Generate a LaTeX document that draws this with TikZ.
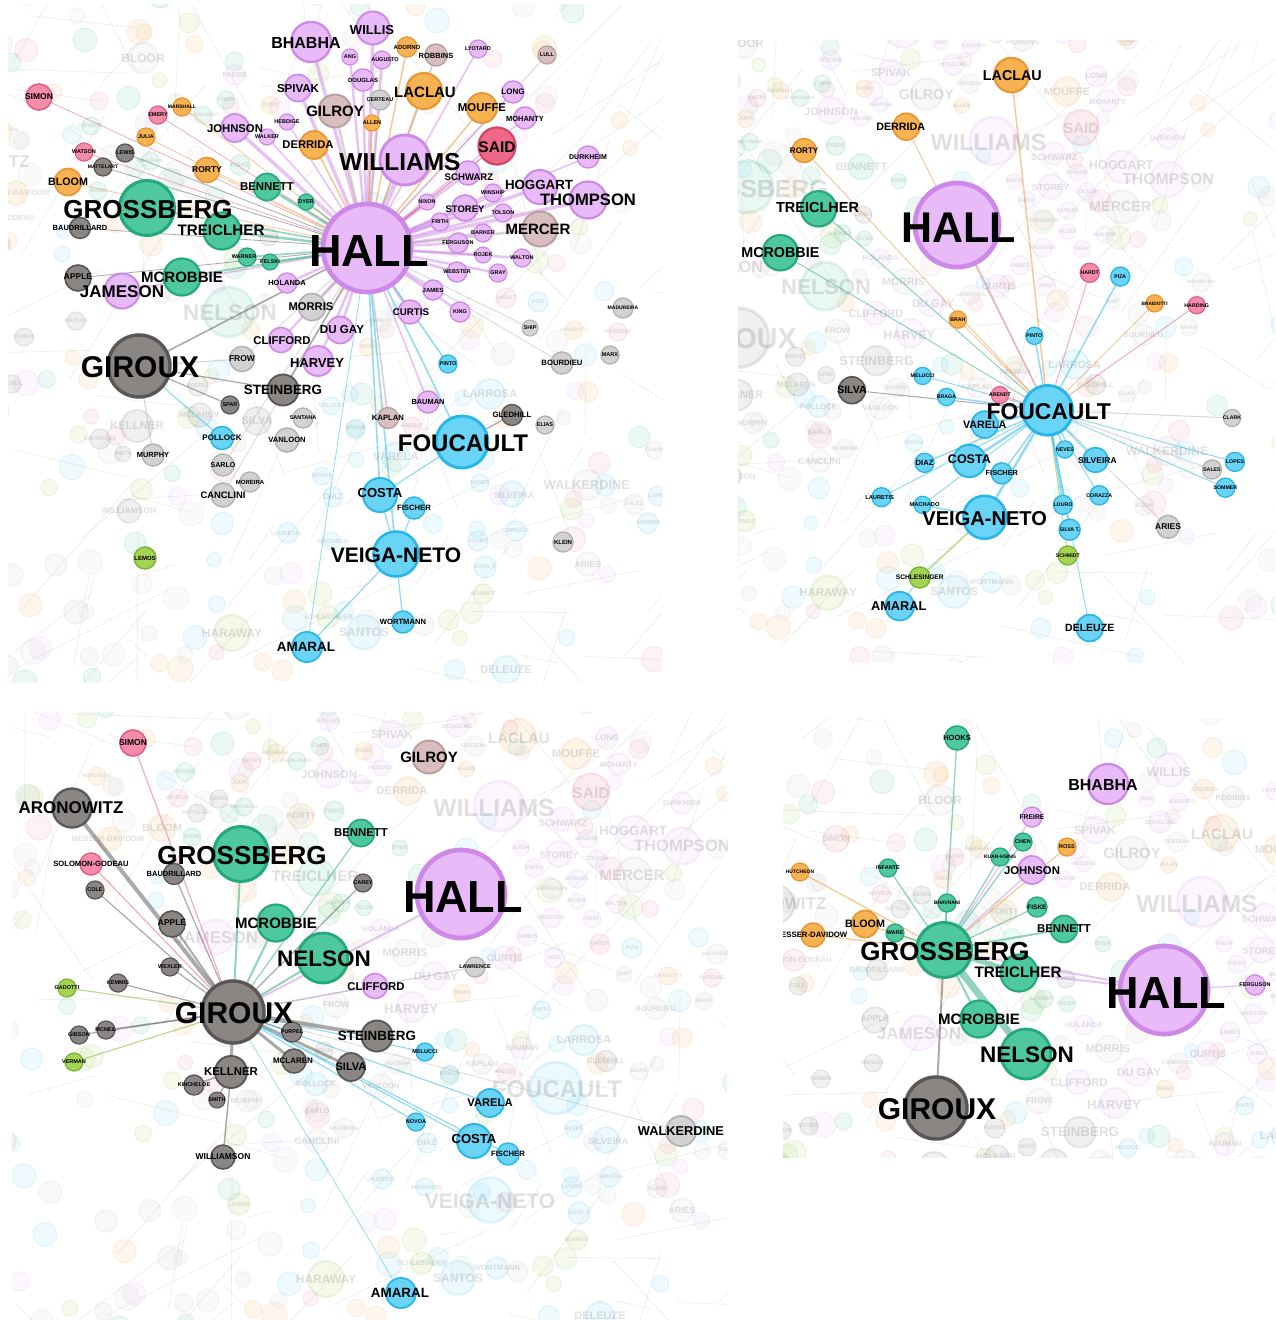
\documentclass[tikz,border=0pt]{standalone}
\usepackage{fontspec}
\setmainfont{Liberation Sans}
\pgfdeclarelayer{faint}
\pgfdeclarelayer{edges}
\pgfsetlayers{faint,edges,main}
\definecolor{puF}{RGB}{232,187,248}\definecolor{puL}{RGB}{206,137,232}
\definecolor{teF}{RGB}{78,200,158}\definecolor{teL}{RGB}{36,168,124}
\definecolor{orF}{RGB}{247,178,82}\definecolor{orL}{RGB}{232,150,50}
\definecolor{gdF}{RGB}{138,134,132}\definecolor{gdL}{RGB}{88,86,86}
\definecolor{glF}{RGB}{210,210,210}\definecolor{glL}{RGB}{178,178,178}
\definecolor{brF}{RGB}{216,190,190}\definecolor{brL}{RGB}{184,160,160}
\definecolor{cyF}{RGB}{105,212,246}\definecolor{cyL}{RGB}{40,182,232}
\definecolor{pkF}{RGB}{245,140,170}\definecolor{pkL}{RGB}{225,95,130}
\definecolor{rdF}{RGB}{238,105,135}\definecolor{rdL}{RGB}{214,68,100}
\definecolor{grF}{RGB}{165,212,85}\definecolor{grL}{RGB}{122,180,50}
\pgfmathdeclarerandomlist{cols}{{pu}{te}{or}{gl}{cy}{pk}{gr}{br}{gl}{cy}}
\newif\ifcirc \circtrue
\tikzset{
  ball/.style={circle, inner sep=0pt, fill=#1F, draw=#1L},
  lab/.style={inner sep=0pt, text=black, font=\bfseries},
  mdf/.style={opacity=0.12},
  md1/.style={}, md2/.style={}, md3/.style={}, md4/.style={},
  edg/.style={draw=#1L, draw opacity=0.5, line cap=round},
  fline/.style={draw=black!30, line width=0.6pt, opacity=0.25},
  fcirc/.style={line width=1pt, opacity=0.11},
}
\newcommand\nd[9]{%
  \ifcirc
    \node[ball=#6, minimum size=#5, line width={0.05*#5+0.3}, md#1] (#2#1) at (#3,#4) {};%
  \else
    \node[lab, md#1, shift={(#9)}] (#2#1t) at (#3,#4) {\fontsize{#8}{#8}\selectfont #7};%
  \fi}
\def\allids{}
\newcommand\defnode[8]{%
  \expandafter\def\csname nD@#1\endcsname##1{\nd{##1}{#1}{#2}{#3}{#4}{#5}{#6}{#7}{#8}}%
  \expandafter\def\csname cl@#1\endcsname{#5}%
  \ifx\allids\empty\xdef\allids{#1}\else\xdef\allids{\allids,#1}\fi}
\newcommand\drawset[2]{\edef\tmplist{#2}\foreach \n in \tmplist {\csname nD@\n\endcsname{#1}}}
\newcommand\fan[4]{\foreach \tg in {#4}{\edef\ec{\csname cl@\tg\endcsname}\draw[edg=\ec, line width=#3] (#1) -- (\tg#2);}}
\newcommand\bgnet{%
  \pgfmathsetseed{12345}%
  \foreach \i in {1,...,130}{%
    \pgfmathsetmacro\xa{-90+800*rnd}\pgfmathsetmacro\ya{-30+740*rnd}%
    \pgfmathsetmacro\xb{\xa+320*(rnd-0.5)}\pgfmathsetmacro\yb{\ya+320*(rnd-0.5)}%
    \draw[fline] (\xa,\ya) -- (\xb,\yb);}%
  \foreach \i in {1,...,240}{%
    \pgfmathsetmacro\xa{-90+800*rnd}\pgfmathsetmacro\ya{-30+740*rnd}%
    \pgfmathsetmacro\rr{7+6*rnd}%
    \pgfmathrandomitem\cc{cols}%
    \draw[fcirc, fill=\cc F, draw=\cc L] (\xa,\ya) circle[radius=\rr];}%
}
\newcommand\panel[4]{%
  \begin{pgfonlayer}{faint}
    \begin{scope}\clip #2;
      \begin{scope}[#3]\bgnet \circtrue\drawset{f}{\allids}\circfalse\drawset{f}{\allids}\end{scope}
    \end{scope}
  \end{pgfonlayer}
  \begin{scope}\clip #2;
    \begin{scope}[#3]\circtrue\drawset{#1}{#4}\circfalse\drawset{#1}{#4}\end{scope}
  \end{scope}}
% ---------- network (frame of the top-left panel) ----------
\defnode{hall}{367}{248}{88}{pu}{HALL}{45}{2,3}
\defnode{grossberg}{147}{208}{55}{te}{GROSSBERG}{26}{1,2}
\defnode{giroux}{139}{366}{62}{gd}{GIROUX}{30}{1,1}
\defnode{foucault}{462}{442}{52}{cy}{FOUCAULT}{24}{1,1}
\defnode{williams}{405}{160}{50}{pu}{WILLIAMS}{24.5}{-5,2}
\defnode{veiganeto}{396}{554}{45}{cy}{VEIGA-NETO}{21}{0,1}
\defnode{nelson}{229}{312}{50}{te}{NELSON}{22.5}{1,1}
\defnode{bhabha}{311}{42}{40}{pu}{BHABHA}{16}{-5,1}
\defnode{willis}{373}{28}{33}{pu}{WILLIS}{13}{-1,2}
\defnode{gilroy}{335}{111}{33}{br}{GILROY}{15}{0,0}
\defnode{spivak}{298}{88}{27}{pu}{SPIVAK}{11.5}{0,1}
\defnode{johnson}{235}{128}{28}{pu}{JOHNSON}{11.3}{0,1}
\defnode{derrida}{314}{145}{28}{or}{DERRIDA}{11.2}{-6,0}
\defnode{laclau}{424}{91}{36}{or}{LACLAU}{15}{1,1}
\defnode{mouffe}{482}{108}{30}{or}{MOUFFE}{11.4}{0,0}
\defnode{said}{497}{146}{37}{rd}{SAID}{15.5}{0,1}
\defnode{hoggart}{540}{187}{34}{pu}{HOGGART}{13.3}{-1,-2}
\defnode{thompson}{588}{200}{37}{pu}{THOMPSON}{16.6}{0,0}
\defnode{mercer}{540}{229}{35}{br}{MERCER}{15}{-2,0}
\defnode{schwarz}{468}{173}{24}{pu}{SCHWARZ}{9.6}{1,4}
\defnode{storey}{465}{208}{26}{pu}{STOREY}{9.5}{0,1}
\defnode{durkheim}{588}{157}{22}{pu}{DURKHEIM}{7}{0,0}
\defnode{mohanty}{525}{118}{22}{pu}{MOHANTY}{7.5}{0,1}
\defnode{long}{513}{92}{22}{pu}{LONG}{8}{0,0}
\defnode{adorno}{407}{47}{20}{or}{ADORNO}{6}{0,0}
\defnode{robbins}{436}{55}{22}{br}{ROBBINS}{7.5}{0,1}
\defnode{lyotard}{478}{49}{18}{pu}{LYOTARD}{5.5}{0,0}
\defnode{lull}{547}{55}{18}{br}{LULL}{5.5}{0,0}
\defnode{ang}{350}{57}{16}{pu}{ANG}{5.5}{0,0}
\defnode{augusto}{382}{60}{18}{pu}{AUGUSTO}{5.5}{3,0}
\defnode{douglas}{363}{80}{22}{pu}{DOUGLAS}{6}{0,0}
\defnode{certeau}{380}{100}{20}{gl}{CERTEAU}{5.5}{0,0}
\defnode{allen}{372}{123}{16}{or}{ALLEN}{5.5}{0,0}
\defnode{rorty}{207}{170}{25}{or}{RORTY}{8.5}{0,0}
\defnode{bloom}{68}{182}{27}{or}{BLOOM}{10.7}{0,0}
\defnode{simon}{39}{97}{26}{pk}{SIMON}{8.5}{0,0}
\defnode{emery}{158}{115}{18}{pk}{EMERY}{5.5}{0,0}
\defnode{marshall}{182}{107}{18}{or}{MARSHALL}{5}{0,0}
\defnode{julia}{146}{137}{18}{or}{JULIA}{5.5}{0,0}
\defnode{watson}{84}{152}{18}{pk}{WATSON}{5.5}{0,0}
\defnode{lewis}{125}{153}{18}{gd}{LEWIS}{5.5}{0,0}
\defnode{mattelart}{103}{167}{18}{gd}{MATTELART}{5}{0,0}
\defnode{baudrillard}{80}{228}{21}{gd}{BAUDRILLARD}{7.5}{0,0}
\defnode{treiclher}{222}{231}{37}{te}{TREICLHER}{15.2}{-1,-1}
\defnode{bennett}{267}{187}{27}{te}{BENNETT}{11.4}{0,0}
\defnode{dyer}{306}{202}{16}{te}{DYER}{5.5}{0,0}
\defnode{hebdige}{287}{122}{16}{pu}{HEBDIGE}{5.5}{0,0}
\defnode{walker}{267}{137}{16}{pu}{WALKER}{5.5}{0,0}
\defnode{warner}{247}{257}{18}{te}{WARNER}{5.5}{-3,0}
\defnode{felski}{270}{262}{16}{te}{FELSKI}{5.5}{0,0}
\defnode{mcrobbie}{182}{277}{37}{te}{MCROBBIE}{15}{0,0}
\defnode{apple}{78}{278}{26}{gd}{APPLE}{8.4}{0,-1}
\defnode{jameson}{122}{291}{35}{pu}{JAMESON}{17}{0,1}
\defnode{holanda}{287}{283}{20}{pu}{HOLANDA}{7.5}{0,0}
\defnode{morris}{312}{307}{27}{gl}{MORRIS}{11.2}{-1,0}
\defnode{dugay}{340}{330}{27}{pu}{DU GAY}{11.6}{2,0}
\defnode{clifford}{281}{340}{25}{pu}{CLIFFORD}{11.3}{1,1}
\defnode{harvey}{318}{361}{30}{pu}{HARVEY}{13}{-1,2}
\defnode{curtis}{410}{312}{24}{pu}{CURTIS}{9.7}{1,0}
\defnode{steinberg}{283}{390}{31}{gd}{STEINBERG}{13.4}{0,0}
\defnode{frow}{242}{359}{25}{gl}{FROW}{8.5}{0,0}
\defnode{spar}{230}{405}{18}{gd}{SPAR}{5.5}{0,0}
\defnode{santana}{303}{418}{20}{gl}{SANTANA}{5.5}{0,0}
\defnode{pollock}{222}{438}{23}{cy}{POLLOCK}{8}{0,0}
\defnode{vanloon}{287}{440}{24}{gl}{VANLOON}{7.6}{0,0}
\defnode{murphy}{153}{455}{22}{gl}{MURPHY}{7.4}{0,0}
\defnode{sarlo}{223}{465}{22}{gl}{SARLO}{7.1}{0,0}
\defnode{moreira}{250}{482}{20}{gl}{MOREIRA}{6}{0,0}
\defnode{canclini}{223}{495}{24}{gl}{CANCLINI}{9.4}{0,0}
\defnode{lemos}{145}{558}{22}{gr}{LEMOS}{6}{0,0}
\defnode{amaral}{307}{647}{30}{cy}{AMARAL}{13.4}{-1,0}
\defnode{pinto}{448}{364}{18}{cy}{PINTO}{5.5}{0,0}
\defnode{bourdieu}{562}{363}{22}{gl}{BOURDIEU}{7.7}{0,0}
\defnode{marx}{610}{355}{18}{gl}{MARX}{5.5}{0,0}
\defnode{bauman}{428}{402}{22}{pu}{BAUMAN}{7.4}{0,0}
\defnode{kaplan}{388}{418}{21}{br}{KAPLAN}{7.7}{0,0}
\defnode{gledhill}{512}{415}{21}{gd}{GLEDHILL}{7.8}{0,0}
\defnode{elias}{545}{425}{18}{gl}{ELIAS}{5.5}{0,0}
\defnode{costa}{380}{495}{34}{cy}{COSTA}{13.1}{0,-2}
\defnode{fischer}{414}{508}{22}{cy}{FISCHER}{7.7}{0,0}
\defnode{klein}{563}{542}{20}{gl}{KLEIN}{6}{0,0}
\defnode{wortmann}{403}{622}{22}{cy}{WORTMANN}{7.6}{0,0}
\defnode{nixon}{427}{202}{16}{pu}{NIXON}{5.5}{0,0}
\defnode{winship}{493}{193}{18}{pu}{WINSHIP}{5.5}{0,0}
\defnode{tolson}{503}{213}{18}{pu}{TOLSON}{5.5}{0,0}
\defnode{frith}{440}{222}{18}{pu}{FRITH}{5.5}{0,0}
\defnode{barker}{483}{233}{18}{pu}{BARKER}{5.5}{0,0}
\defnode{ferguson}{458}{243}{20}{pu}{FERGUSON}{5.5}{0,0}
\defnode{rojek}{483}{255}{16}{pu}{ROJEK}{5.5}{0,0}
\defnode{walton}{522}{258}{18}{pu}{WALTON}{5.5}{0,0}
\defnode{webster}{457}{272}{20}{pu}{WEBSTER}{5.5}{0,0}
\defnode{gray}{498}{273}{18}{pu}{GRAY}{5.5}{0,0}
\defnode{james}{433}{290}{20}{pu}{JAMES}{6}{0,0}
\defnode{king}{460}{312}{20}{pu}{KING}{5.5}{0,0}
\defnode{ship}{530}{328}{16}{gl}{SHIP}{5.5}{0,0}
\defnode{madureira}{623}{308}{20}{gl}{MADUREIRA}{5}{0,0}
\defnode{bloor}{143}{58}{30}{gl}{BLOOR}{12}{0,0}
\defnode{haraway}{232}{633}{36}{gr}{HARAWAY}{12}{0,0}
\defnode{santos}{364}{632}{34}{cy}{SANTOS}{12}{0,0}
\defnode{deleuze}{506}{670}{28}{cy}{DELEUZE}{11}{0,0}
\defnode{walkerdine}{587}{485}{30}{gl}{WALKERDINE}{12.8}{0,0}
\defnode{aries}{588}{564}{24}{gl}{ARIES}{8.8}{0,0}
\defnode{larrosa}{490}{394}{30}{cy}{LARROSA}{11}{0,0}
\defnode{varela}{396}{457}{28}{cy}{VARELA}{11.2}{0,0}
\defnode{silva}{257}{421}{28}{gd}{SILVA}{11}{0,0}
\defnode{kellner}{137}{426}{32}{gd}{KELLNER}{11.4}{0,0}
\defnode{williamson}{129}{511}{24}{gd}{WILLIAMSON}{8.5}{0,0}
\defnode{mclaren}{200}{415}{24}{gd}{MCLAREN}{8}{-1,0}
\defnode{aronowitz}{-22}{162}{39}{gd}{ARONOWITZ}{17}{-1,0}
\defnode{solomon}{-3}{218}{22}{pk}{SOLOMON-GODEAU}{7.6}{0,0}
\defnode{cole}{1}{244}{18}{gd}{COLE}{5.5}{0,0}
\defnode{wexler}{76}{321}{18}{gd}{WEXLER}{5.5}{0,0}
\defnode{kemmis}{24}{337}{18}{gd}{KEMMIS}{5.5}{0,0}
\defnode{gadotti}{-27}{342}{18}{gr}{GADOTTI}{5.5}{0,0}
\defnode{gibson}{-15}{389}{18}{gd}{GIBSON}{5.5}{0,0}
\defnode{mcneil}{12}{384}{18}{gd}{MCNEIL}{5.5}{0,0}
\defnode{verman}{-20}{416}{18}{gr}{VERMAN}{5.5}{0,0}
\defnode{purpel}{198}{386}{20}{gd}{PURPEL}{5.5}{0,0}
\defnode{kincheloe}{100}{439}{20}{gd}{KINCHELOE}{5.5}{0,0}
\defnode{smith}{123}{454}{16}{gd}{SMITH}{5.5}{0,0}
\defnode{carey}{269}{237}{18}{gd}{CAREY}{5.5}{0,0}
\defnode{lawrence}{381}{321}{20}{gl}{LAWRENCE}{5.5}{0,0}
\defnode{melucci}{331}{406}{18}{cy}{MELUCCI}{5.5}{0,0}
\defnode{novoa}{322}{476}{18}{cy}{NOVOA}{5.5}{0,0}
\defnode{braga}{356}{428}{18}{cy}{BRAGA}{5.5}{0,0}
\defnode{arendt}{412}{426}{18}{pk}{ARENDT}{5.5}{0,0}
\defnode{diaz}{333}{497}{20}{cy}{DIAZ}{8}{0,0}
\defnode{lauretis}{288}{533}{20}{cy}{LAURETIS}{6}{-2,0}
\defnode{machado}{331}{541}{18}{cy}{MACHADO}{6}{2,0}
\defnode{schlesinger}{328}{617}{22}{gr}{SCHLESINGER}{6.9}{0,0}
\defnode{brah}{368}{347}{18}{or}{BRAH}{5.5}{0,0}
\defnode{hardt}{506}{298}{20}{pk}{HARDT}{5.5}{0,0}
\defnode{piza}{538}{302}{20}{cy}{PIZA}{5.5}{0,0}
\defnode{braidotti}{574}{330}{18}{or}{BRAIDOTTI}{5}{0,0}
\defnode{harding}{618}{332}{18}{pk}{HARDING}{5.5}{0,0}
\defnode{clark}{655}{450}{18}{gl}{CLARK}{5.5}{0,0}
\defnode{neves}{480}{483}{18}{cy}{NEVES}{5.5}{0,0}
\defnode{silveira}{512}{494}{26}{cy}{SILVEIRA}{8.9}{2,1}
\defnode{corazza}{516}{531}{20}{cy}{CORAZZA}{5.5}{0,0}
\defnode{louro}{478}{541}{20}{cy}{LOURO}{5.5}{0,0}
\defnode{silvat}{485}{567}{22}{cy}{SILVA T.}{5.5}{0,0}
\defnode{schmidt}{483}{594}{20}{gr}{SCHMIDT}{5.5}{0,0}
\defnode{lopes}{658}{496}{20}{cy}{LOPES}{5.5}{0,0}
\defnode{sales}{634}{504}{20}{gl}{SALES}{5.5}{0,0}
\defnode{sommer}{648}{523}{20}{cy}{SOMMER}{5.5}{0,0}
\defnode{hooks}{160}{-4}{24}{te}{HOOKS}{7.5}{0,0}
\defnode{freire}{235}{75}{20}{pu}{FREIRE}{6.8}{0,0}
\defnode{chen}{226}{100}{18}{te}{CHEN}{5.5}{0,0}
\defnode{kuan}{203}{115}{18}{te}{KUAN-HSING}{5}{0,0}
\defnode{ross}{270}{105}{18}{or}{ROSS}{5.5}{0,0}
\defnode{infante}{91}{126}{18}{te}{INFANTE}{5.5}{0,0}
\defnode{hutcheon}{3}{130}{18}{or}{HUTCHEON}{5}{0,0}
\defnode{bhav}{150}{161}{18}{te}{BHAVNANI}{5}{0,0}
\defnode{fiske}{240}{165}{20}{te}{FISKE}{6.5}{0,0}
\defnode{messer}{16}{193}{24}{or}{MESSER-DAVIDOW}{7.8}{-2,0}
\defnode{ware}{98}{191}{18}{te}{WARE}{5.5}{0,0}
\begin{document}
\begin{tikzpicture}[x=1pt,y=-1pt]
\useasboundingbox (0,0) rectangle (1275,1320);
\begin{pgfonlayer}{faint}\fill[white] (0,0) rectangle (1275,1320);\end{pgfonlayer}
% ---------- panel 1 : HALL ----------
\panel{1}{(8,4) rectangle (662,682)}{}{hall,grossberg,giroux,foucault,williams,veiganeto,bhabha,willis,gilroy,spivak,johnson,derrida,laclau,mouffe,said,hoggart,thompson,mercer,schwarz,storey,durkheim,mohanty,long,adorno,robbins,lyotard,lull,ang,augusto,douglas,certeau,allen,rorty,bloom,simon,emery,marshall,julia,watson,lewis,mattelart,baudrillard,treiclher,bennett,dyer,hebdige,walker,warner,felski,mcrobbie,apple,jameson,holanda,morris,dugay,clifford,harvey,curtis,steinberg,frow,spar,santana,pollock,vanloon,murphy,sarlo,moreira,canclini,lemos,amaral,pinto,bourdieu,marx,bauman,kaplan,gledhill,elias,costa,fischer,klein,wortmann,nixon,winship,tolson,frith,barker,ferguson,rojek,walton,webster,gray,james,king,ship,madureira}
\begin{pgfonlayer}{edges}\begin{scope}\clip (8,4) rectangle (662,682);
\fan{hall1}{1}{5}{williams}
\fan{hall1}{1}{3.5}{bhabha,willis,spivak,johnson,storey,hoggart,thompson}
\fan{hall1}{1}{2.5}{gilroy,schwarz,douglas,ang,augusto,mercer,treiclher,bennett,dugay,harvey,clifford,holanda,nixon,winship,tolson,frith,barker,ferguson,rojek,walton,webster,gray,james,king,curtis,morris}
\fan{hall1}{1}{1.6}{derrida,laclau,mouffe,said,mohanty,long,durkheim,lyotard,robbins,adorno,certeau,allen,dyer,hebdige,walker,warner,felski,mcrobbie,grossberg,jameson,foucault,costa,veiganeto,bauman,kaplan,pinto,steinberg,giroux}
\fan{hall1}{1}{0.8}{rorty,bloom,simon,emery,marshall,julia,watson,lewis,mattelart,baudrillard,apple,lull,sarlo,canclini,amaral,frow,ship,bourdieu}
\fan{giroux1}{1}{1.2}{steinberg,frow,spar,pollock,murphy}
\fan{veiganeto1}{1}{1.2}{costa,wortmann,amaral,fischer}
\fan{foucault1}{1}{1.2}{gledhill,costa}
\end{scope}\end{pgfonlayer}
% ---------- panel 2 : FOUCAULT ----------
\panel{2}{(738,40) rectangle (1275,662)}{shift={(606.5,-11.8)},scale=0.955,transform shape}{hall,foucault,laclau,derrida,rorty,treiclher,mcrobbie,silva,melucci,braga,arendt,varela,costa,diaz,fischer,lauretis,machado,veiganeto,schlesinger,amaral,brah,pinto,hardt,piza,braidotti,harding,clark,neves,silveira,corazza,louro,silvat,schmidt,lopes,sales,sommer,aries,deleuze}
\begin{pgfonlayer}{edges}\begin{scope}\clip (738,40) rectangle (1275,662);
\fan{foucault2}{2}{2.5}{veiganeto,varela,costa}
\fan{foucault2}{2}{1.5}{laclau,hall,fischer,diaz,braga,silveira,neves,louro,silvat,piza,pinto}
\fan{foucault2}{2}{1}{mcrobbie,silva,melucci,arendt,lauretis,machado,brah,hardt,braidotti,harding,clark,corazza,schmidt,lopes,sales,sommer,aries,deleuze,derrida,rorty,treiclher}
\fan{veiganeto2}{2}{1.5}{schlesinger,machado}
\fan{schlesinger2}{2}{1}{amaral}
\end{scope}\end{pgfonlayer}
% ---------- panel 3 : GIROUX ----------
\panel{3}{(12,712) rectangle (727,1320)}{shift={(94,646)}}{giroux,simon,aronowitz,grossberg,bennett,solomon,baudrillard,cole,apple,mcrobbie,nelson,wexler,kemmis,gadotti,hall,gilroy,carey,clifford,lawrence,gibson,mcneil,verman,purpel,steinberg,mclaren,silva,melucci,kellner,kincheloe,smith,williamson,varela,novoa,costa,fischer,walkerdine,amaral}
\begin{pgfonlayer}{edges}\begin{scope}\clip (12,712) rectangle (727,1320);
\fan{giroux3}{3}{4}{aronowitz,steinberg}
\fan{giroux3}{3}{3}{silva,mclaren,kellner}
\fan{giroux3}{3}{2}{grossberg,nelson,hall,apple,mcrobbie}
\fan{giroux3}{3}{1.2}{simon,solomon,baudrillard,cole,bennett,wexler,kemmis,gadotti,carey,clifford,lawrence,gibson,mcneil,verman,purpel,melucci,varela,novoa,costa,fischer}
\fan{giroux3}{3}{0.7}{walkerdine,amaral}
\fan{kellner3}{3}{1.5}{kincheloe,smith,williamson}
\end{scope}\end{pgfonlayer}
% ---------- panel 4 : GROSSBERG ----------
\panel{4}{(783,718) rectangle (1275,1157)}{shift={(797,742)}}{hooks,bhabha,freire,chen,kuan,ross,johnson,infante,hutcheon,bhav,fiske,bennett,bloom,messer,ware,grossberg,treiclher,hall,ferguson,mcrobbie,nelson,giroux}
\begin{pgfonlayer}{edges}\begin{scope}\clip (783,718) rectangle (1275,1157);
\fan{grossberg4}{4}{7}{nelson}
\fan{grossberg4}{4}{5}{treiclher}
\fan{grossberg4}{4}{2}{mcrobbie,giroux,hall,bennett}
\fan{grossberg4}{4}{1.3}{hooks,bloom,messer,freire,chen,kuan,ross,johnson,infante,hutcheon,bhav,fiske,ware}
\fan{hall4}{4}{1.2}{ferguson}
\fan{treiclher4}{4}{2}{hall}
\end{scope}\end{pgfonlayer}
\end{tikzpicture}
\end{document}
